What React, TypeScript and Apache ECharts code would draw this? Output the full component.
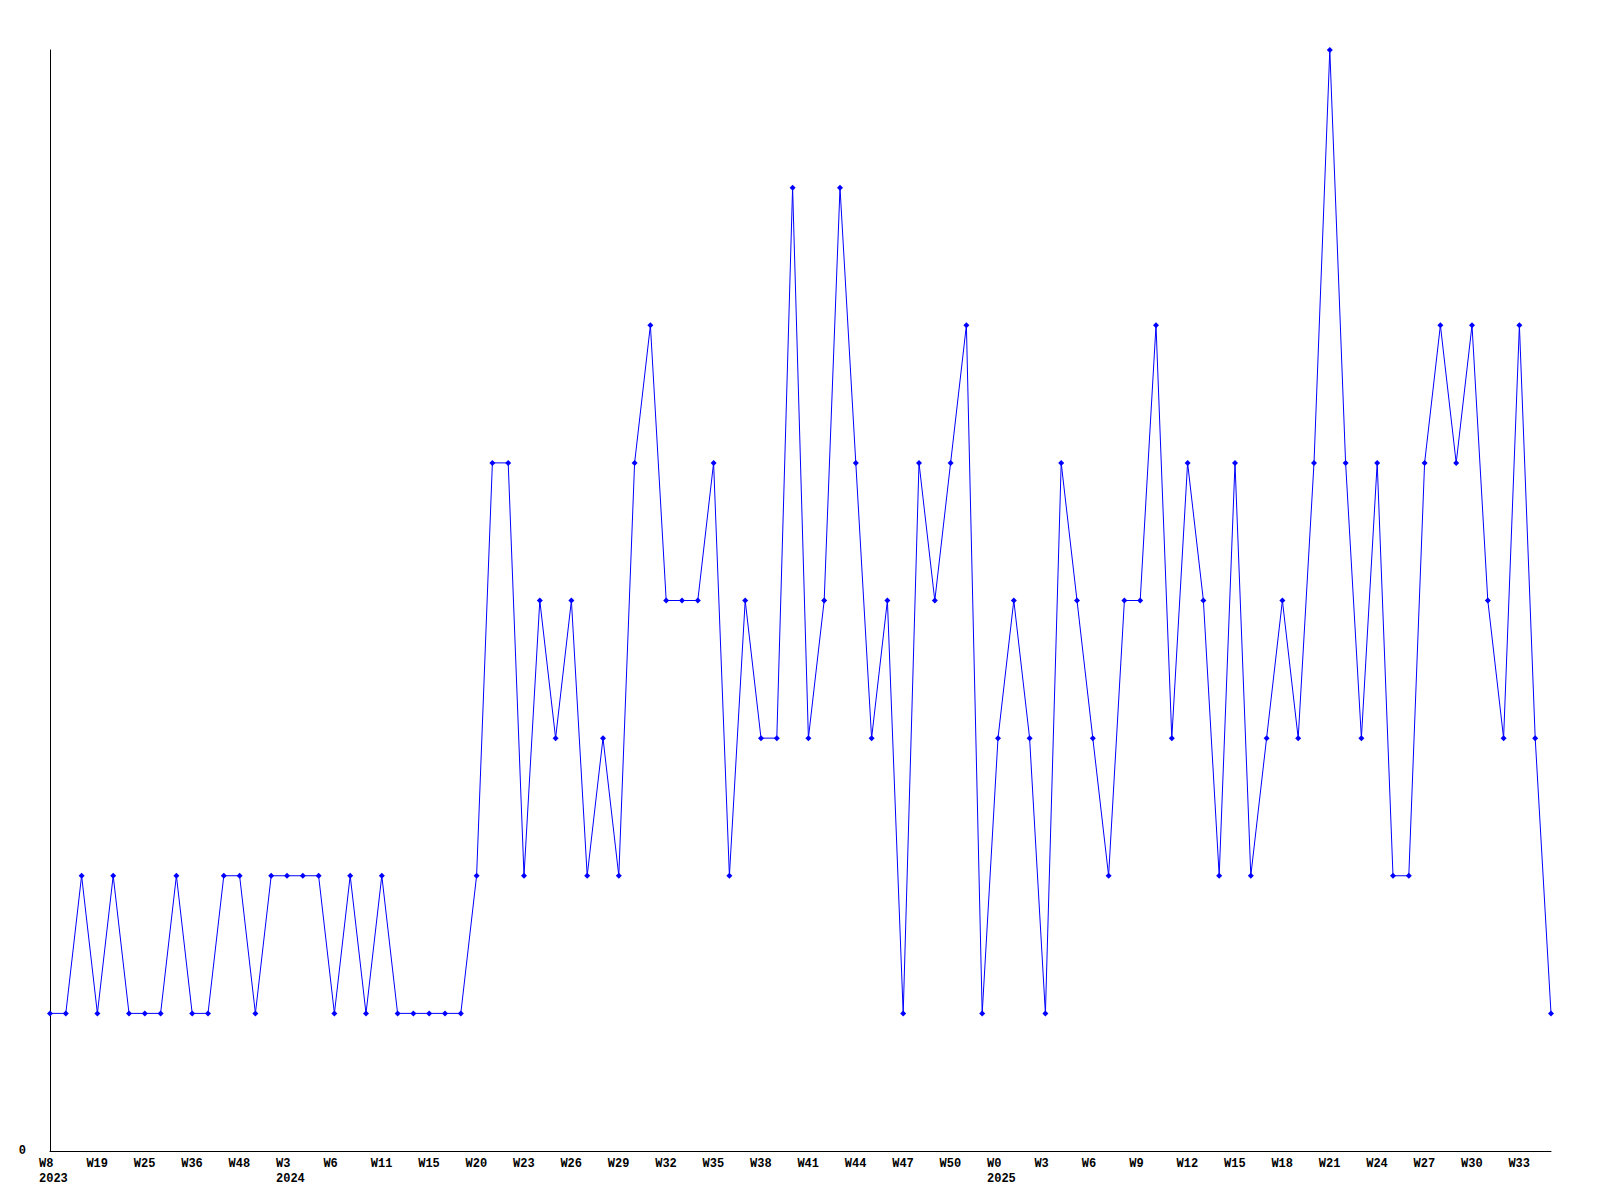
import React, { useEffect, useRef } from "react";
import * as echarts from "echarts";

const weekLabels = [
  "W8", "W19", "W25", "W36", "W48", "W3", "W6", "W11", "W15", "W20", "W23",
  "W26", "W29", "W32", "W35", "W38", "W41", "W44", "W47", "W50", "W0", "W3",
  "W6", "W9", "W12", "W15", "W18", "W21", "W24", "W27", "W30", "W33",
];

const yearLabels: Record<number, string> = { 0: "2023", 15: "2024", 60: "2025" };

const values = [
  1, 1, 2, 1, 2, 1, 1, 1, 2, 1, 1, 2, 2, 1, 2, 2, 2, 2, 1, 2, 1, 2, 1, 1, 1, 1,
  1, 2, 5, 5, 2, 4, 3, 4, 2, 3, 2, 5, 6, 4, 4, 4, 5, 2, 4, 3, 3, 7, 3, 4, 7, 5,
  3, 4, 1, 5, 4, 5, 6, 1, 3, 4, 3, 1, 5, 4, 3, 2, 4, 4, 6, 3, 5, 4, 2, 5, 2, 3,
  4, 3, 5, 8, 5, 3, 5, 2, 2, 5, 6, 5, 6, 4, 3, 6, 3, 1,
];

const categories = values.map((_, i) => String(i));

const FONT = "Liberation Mono";

export default function App() {
  const ref = useRef<HTMLDivElement>(null);
  useEffect(() => {
    document.body.style.margin = "0";
    const chart = echarts.init(ref.current!, null, { renderer: "svg" });
    chart.setOption({
      animation: false,
      backgroundColor: "#ffffff",
      grid: { left: 50, top: 50, right: 49, bottom: 49, containLabel: false },
      xAxis: {
        type: "category",
        data: categories,
        boundaryGap: false,
        axisLine: { lineStyle: { color: "#000", width: 1 } },
        axisTick: { show: false },
        splitLine: { show: false },
        axisLabel: {
          interval: 2,
          margin: 5,
          align: "left",
          padding: [0, 0, 0, -11],
          color: "#000",
          fontFamily: FONT,
          fontWeight: "bold",
          fontSize: 12,
          lineHeight: 15,
          formatter: (_v: string, index: number) => {
            const w = weekLabels[index / 3];
            const y = yearLabels[index];
            return y ? w + "\n" + y : w;
          },
        },
      },
      yAxis: {
        type: "value",
        min: 0,
        max: 8,
        interval: 8,
        axisLine: { show: true, lineStyle: { color: "#000", width: 1 } },
        axisTick: { show: false },
        splitLine: { show: false },
        axisLabel: {
          margin: 24,
          color: "#000",
          fontFamily: FONT,
          fontWeight: "bold",
          fontSize: 12,
          formatter: (v: number) => (v === 0 ? "0" : ""),
        },
      },
      series: [
        {
          type: "line",
          data: values,
          symbol: "diamond",
          symbolSize: 6,
          lineStyle: { color: "#0000ff", width: 1 },
          itemStyle: { color: "#0000ff" },
        },
      ],
    });
    return () => chart.dispose();
  }, []);
  return (
    <div
      ref={ref}
      style={{ position: "absolute", left: 0, top: 0, width: 1600, height: 1200 }}
    />
  );
}
